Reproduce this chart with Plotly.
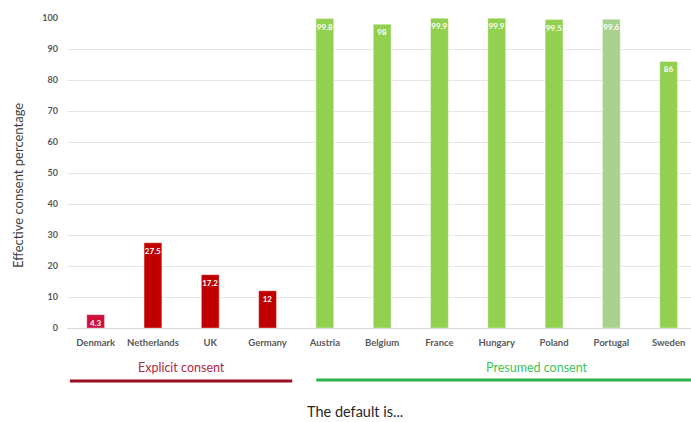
import plotly.graph_objects as go

countries = ["Denmark", "Netherlands", "UK", "Germany", "Austria", "Belgium",
             "France", "Hungary", "Poland", "Portugal", "Sweden"]
consent = [4.3, 27.5, 17.2, 12, 99.8, 98, 99.9, 99.9, 99.5, 99.6, 86]
labels = ["4.3", "27.5", "17.2", "12", "99.8", "98", "99.9", "99.9", "99.5", "99.6", "86"]
bar_colors = ["#D0103A", "#C00000", "#C00000", "#C00000", "#92D050", "#92D050",
              "#92D050", "#92D050", "#92D050", "#A9D18E", "#92D050"]
y_ticks = [0, 10, 20, 30, 40, 50, 60, 70, 80, 90, 100]

fig = go.Figure(go.Bar(
    x=list(range(len(countries))),
    y=consent,
    text=[f"<b>{t}</b>" for t in labels],
    textposition="inside",
    insidetextanchor="end",
    textangle=0,
    textfont=dict(family="Lato", size=8, color="white"),
    marker=dict(color=bar_colors, line=dict(color="rgba(255,255,255,0.35)", width=1)),
    width=0.31,
    cliponaxis=False,
))

fig.update_layout(
    width=691, height=422,
    margin=dict(l=67, r=0, t=18, b=94),
    paper_bgcolor="white", plot_bgcolor="white",
    showlegend=False,
    uniformtext=dict(minsize=7, mode="show"),
    xaxis=dict(
        range=[-0.5, 10.39],
        tickmode="array",
        tickvals=list(range(len(countries))),
        ticktext=[f"<b>{c}</b>" for c in countries],
        tickfont=dict(family="Lato", size=9.5, color="#595959"),
        showgrid=False, zeroline=False,
        showline=True, linecolor="#D9D9D9", linewidth=1,
        ticks="", ticklabelstandoff=6,
    ),
    yaxis=dict(
        range=[0, 100],
        tickmode="array",
        tickvals=y_ticks,
        ticktext=[f"<b>{v}</b>" for v in y_ticks],
        tickfont=dict(family="Lato", size=9, color="#595959"),
        showgrid=True, gridcolor="#E6E6E6", gridwidth=1,
        zeroline=False, ticks="", ticklabelstandoff=8,
    ),
)

# y-axis caption
fig.add_annotation(x=-0.0785, y=0.458, xref="paper", yref="paper",
                   text="Effective consent percentage", textangle=-90,
                   showarrow=False, xanchor="center", yanchor="middle",
                   font=dict(family="Lato", size=13, color="#404040"))

# group brackets under the category labels
fig.add_shape(type="line", xref="x", yref="paper", x0=-0.45, x1=3.43, y0=-0.171, y1=-0.171,
              line=dict(color="#9B0F25", width=3))
fig.add_shape(type="line", xref="x", yref="paper", x0=3.85, x1=10.39, y0=-0.168, y1=-0.168,
              line=dict(color="#2DB34A", width=3))
fig.add_annotation(x=1.5, y=-0.129, xref="x", yref="paper", text="Explicit consent",
                   showarrow=False, xanchor="center", yanchor="middle",
                   font=dict(family="Lato", size=12.5, color="#B2283F"))
fig.add_annotation(x=7.7, y=-0.129, xref="x", yref="paper", text="Presumed consent",
                   showarrow=False, xanchor="center", yanchor="middle",
                   font=dict(family="Lato", size=12.5, color="#3CC35A"))
fig.add_annotation(x=0.4615, y=-0.268, xref="paper", yref="paper", text="The default is...",
                   showarrow=False, xanchor="center", yanchor="middle",
                   font=dict(family="Lato", size=14.5, color="#262626"))

fig.write_html("out.html")
